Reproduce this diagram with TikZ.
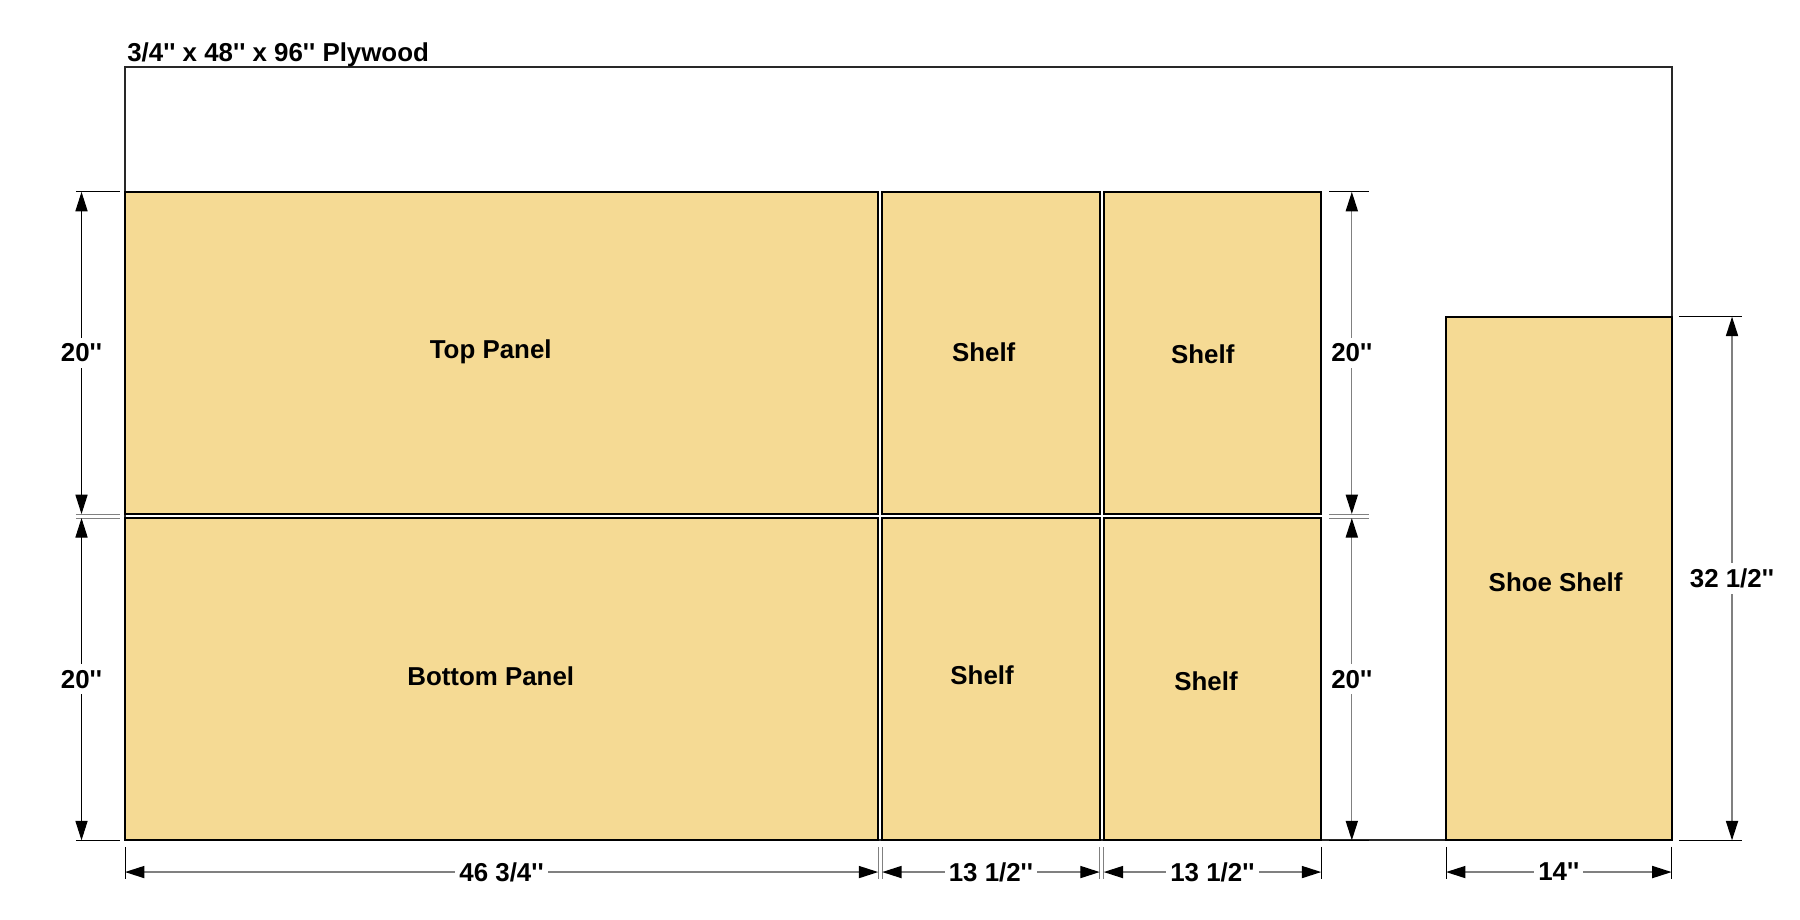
\documentclass[tikz,border=0pt]{standalone}
\usepackage{fontspec}
\newfontfamily\labfont{Liberation Sans}
\usetikzlibrary{arrows.meta}
\definecolor{wood}{RGB}{245,218,148}
\definecolor{dimgrey}{RGB}{128,128,128}
\definecolor{edge}{RGB}{40,40,40}
\begin{document}
\begin{tikzpicture}[x=0.35cm,y=0.35cm,
  sheet/.style={draw=edge,line width=1.2pt},
  piece/.style={draw=black,fill=wood,line width=1.2pt},
  plabel/.style={font=\labfont\bfseries\fontsize{16}{19}\selectfont,inner sep=0pt},
  extline/.style={draw=black,line width=0.6pt},
  extgrey/.style={draw=dimgrey,line width=0.7pt},
  dimline/.style={draw=dimgrey,line width=0.8pt,{Triangle[length=12pt,width=7.5pt,black]}-{Triangle[length=12pt,width=7.5pt,black]}},
  dimlineblack/.style={draw=black,line width=0.6pt,{Triangle[length=12pt,width=7.5pt,black]}-{Triangle[length=12pt,width=7.5pt,black]}},
  dimlabel/.style={font=\labfont\bfseries\fontsize{16}{19}\selectfont,fill=white,inner xsep=2.5pt,inner ysep=3.5pt,text=black}
]
\useasboundingbox (-7.76,-4.89) rectangle (103.97,52.16);

% sheet
\draw[sheet] (0,0) rectangle (96,48);
\node[anchor=base west,inner sep=0pt,font=\labfont\bfseries\fontsize{16}{19}\selectfont] (title) at (0.12,48.33) {3/4'' x 48'' x 96'' Plywood};

% pieces
\draw[piece] (0,20.25) rectangle (46.75,40.25);
\draw[piece] (0,0) rectangle (46.75,20);
\draw[piece] (47,20.25) rectangle (60.5,40.25);
\draw[piece] (60.75,20.25) rectangle (74.25,40.25);
\draw[piece] (47,0) rectangle (60.5,20);
\draw[piece] (60.75,0) rectangle (74.25,20);
\draw[piece] (82,0) rectangle (96,32.5);

\node[plabel] (toppanel) at (22.7,30.3) {Top Panel};
\node[plabel] (bottompanel) at (22.7,10.2) {Bottom Panel};
\node[plabel] (shelfA) at (53.3,30.3) {Shelf};
\node[plabel] (shelfB) at (66.9,30.15) {Shelf};
\node[plabel] (shelfC) at (53.2,10.26) {Shelf};
\node[plabel] (shelfD) at (67.1,9.9) {Shelf};
\node[plabel] (shoe) at (88.8,16.0) {Shoe Shelf};

% left extension lines
\draw[extline] (-3.05,40.25) -- (-0.3,40.25);
\draw[extgrey] (-3.05,20.25) -- (-0.3,20.25);
\draw[extgrey] (-3.05,20) -- (-0.3,20);
\draw[extline] (-3.05,0) -- (-0.3,0);
% left dimensions
\coordinate (LA) at (-2.7,40.25);
\coordinate (LB) at (-2.7,20.25);
\coordinate (LC) at (-2.7,20);
\coordinate (LD) at (-2.7,0);
\draw[dimlineblack] (LA) -- node[dimlabel] (dimL1) {20''} (LB);
\draw[dimlineblack] (LC) -- node[dimlabel] (dimL2) {20''} (LD);

% right shelf extension lines
\draw[extline] (74.75,40.25) -- (77.2,40.25);
\draw[extgrey] (74.75,20.25) -- (77.2,20.25);
\draw[extgrey] (74.75,20) -- (77.2,20);
\draw[extline] (74.75,0) -- (77.2,0);
\coordinate (RA) at (76.15,40.25);
\coordinate (RB) at (76.15,20.25);
\coordinate (RC) at (76.15,20);
\coordinate (RD) at (76.15,0);
\draw[dimline] (RA) -- node[dimlabel] (dimR1) {20''} (RB);
\draw[dimline] (RC) -- node[dimlabel] (dimR2) {20''} (RD);

% shoe shelf extension lines
\draw[extline] (96.45,32.5) -- (100.35,32.5);
\draw[extline] (96.45,0) -- (100.35,0);
\coordinate (SA) at (99.75,32.5);
\coordinate (SB) at (99.75,0);
\draw[dimline] (SA) -- node[dimlabel] (dimS) {32 1/2''} (SB);

% bottom extension lines
\draw[extline] (0,-0.4) -- (0,-2.4);
\draw[extgrey] (46.75,-0.4) -- (46.75,-2.4);
\draw[extgrey] (47,-0.4) -- (47,-2.4);
\draw[extgrey] (60.5,-0.4) -- (60.5,-2.4);
\draw[extgrey] (60.75,-0.4) -- (60.75,-2.4);
\draw[extline] (74.25,-0.4) -- (74.25,-2.4);
\draw[extline] (82,-0.4) -- (82,-2.4);
\draw[extline] (96,-0.4) -- (96,-2.4);
\coordinate (BA) at (0,-1.97);
\coordinate (BB) at (46.75,-1.97);
\coordinate (BC) at (47,-1.97);
\coordinate (BD) at (60.5,-1.97);
\coordinate (BE) at (60.75,-1.97);
\coordinate (BF) at (74.25,-1.97);
\coordinate (BG) at (82,-1.97);
\coordinate (BH) at (96,-1.97);
\draw[dimline] (BA) -- node[dimlabel] (dimB1) {46 3/4''} (BB);
\draw[dimline] (BC) -- node[dimlabel] (dimB2) {13 1/2''} (BD);
\draw[dimline] (BE) -- node[dimlabel] (dimB3) {13 1/2''} (BF);
\draw[dimline] (BG) -- node[dimlabel] (dimB4) {14''} (BH);
\end{tikzpicture}
\end{document}
